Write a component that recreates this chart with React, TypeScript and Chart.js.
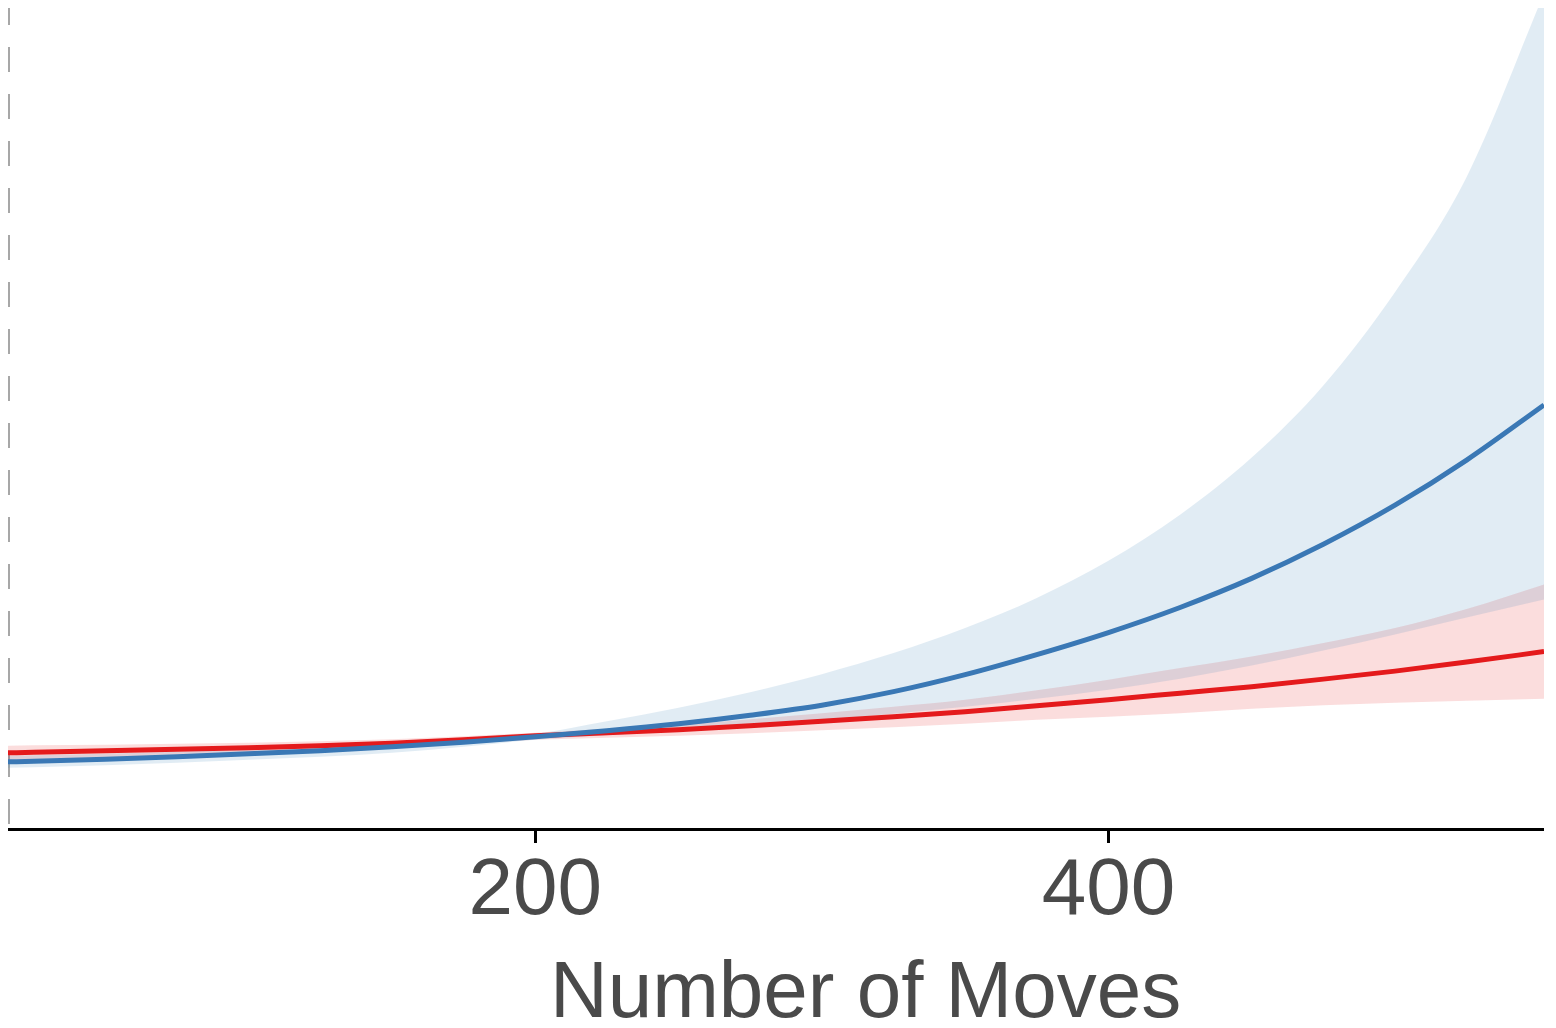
import React, { useEffect, useRef } from "react";
import { Chart, registerables } from "chart.js";

Chart.register(...registerables);

// Number of moves (x positions of the sampled curve points)
const moves = [16, 25, 50, 75, 100, 125, 150, 175, 200, 225, 250, 275, 300, 325, 350, 375, 400, 425, 450, 475, 500, 525, 552];

// Blue series: central estimate and its band
const blueLine = [6.7, 6.75, 6.95, 7.2, 7.5, 7.8, 8.2, 8.65, 9.2, 9.8, 10.5, 11.35, 12.35, 13.7, 15.4, 17.4, 19.6, 22.1, 25.0, 28.4, 32.3, 36.8, 42.3];
const blueUpper = [7.3, 7.35, 7.5, 7.7, 7.9, 8.15, 8.5, 8.95, 9.5, 10.75, 12.1, 13.65, 15.45, 17.55, 20.05, 23.05, 26.75, 31.35, 37.05, 44.25, 53.55, 65.05, 83.35];
const blueLower = [6.1, 6.15, 6.35, 6.6, 6.9, 7.2, 7.6, 8.2, 8.9, 9.35, 9.8, 10.3, 10.85, 11.5, 12.2, 13.0, 13.9, 15.0, 16.3, 17.8, 19.4, 21.1, 22.9];

// Red series: central estimate and its band
const redLine = [7.6, 7.65, 7.8, 7.95, 8.1, 8.3, 8.55, 8.9, 9.3, 9.6, 9.9, 10.3, 10.75, 11.2, 11.7, 12.3, 12.9, 13.55, 14.2, 14.95, 15.75, 16.65, 17.7];
const redUpper = [8.3, 8.35, 8.4, 8.5, 8.6, 8.75, 8.95, 9.25, 9.6, 10.0, 10.4, 10.95, 11.55, 12.2, 12.9, 13.85, 14.9, 16.05, 17.2, 18.55, 20.05, 21.95, 24.4];
const redLower = [6.9, 6.95, 7.15, 7.35, 7.55, 7.8, 8.1, 8.5, 8.9, 9.1, 9.3, 9.55, 9.85, 10.15, 10.5, 10.9, 11.2, 11.55, 12.0, 12.35, 12.6, 12.8, 13.0];

// Axis
const xMin = 16;
const xMax = 552;
const yMin = 0;
const yMax = 82.7;
const xTicks = [200, 400];
const xTitle = "Number of Moves";

const BLUE = "#3a78b5";
const RED = "#e41a1c";
const BLUE_BAND = "rgba(55,126,184,0.15)";
const RED_BAND = "rgba(228,26,28,0.15)";
const FONT = '"Liberation Sans", Arial, sans-serif';

const pts = (ys: number[]) => moves.map((x, i) => ({ x, y: ys[i] }));

export default function App() {
  const ref = useRef<HTMLCanvasElement | null>(null);

  useEffect(() => {
    if (!ref.current) return;
    const decorPlugin = {
      id: "decor",
      beforeDatasetsDraw(chart: any) {
        const { ctx, chartArea } = chart;
        ctx.save();
        ctx.strokeStyle = "#8a8a8a";
        ctx.lineWidth = 1.5;
        ctx.setLineDash([25, 22]);
        ctx.beginPath();
        ctx.moveTo(chartArea.left + 1, chartArea.top);
        ctx.lineTo(chartArea.left + 1, chartArea.bottom);
        ctx.stroke();
        ctx.restore();
      },
      afterDraw(chart: any) {
        const { ctx, chartArea } = chart;
        ctx.save();
        ctx.font = `80px ${FONT}`;
        ctx.fillStyle = "#4a4a4a";
        ctx.textAlign = "center";
        ctx.textBaseline = "alphabetic";
        const cx = chartArea.left + (chartArea.right - chartArea.left) * 0.5583;
        ctx.fillText(xTitle, cx, chartArea.bottom + 188);
        ctx.restore();
      },
    };

    const line = {
      pointRadius: 0,
      cubicInterpolationMode: "monotone" as const,
    };

    const chart = new Chart(ref.current, {
      type: "line",
      data: {
        datasets: [
          { ...line, data: pts(blueUpper), borderWidth: 0, borderColor: "transparent", backgroundColor: BLUE_BAND, fill: "+1", order: 2 },
          { ...line, data: pts(blueLower), borderWidth: 0, borderColor: "transparent", fill: false, order: 2 },
          { ...line, data: pts(redUpper), borderWidth: 0, borderColor: "transparent", backgroundColor: RED_BAND, fill: "+1", order: 3 },
          { ...line, data: pts(redLower), borderWidth: 0, borderColor: "transparent", fill: false, order: 3 },
          { ...line, data: pts(redLine), borderWidth: 5, borderColor: RED, fill: false, order: 1 },
          { ...line, data: pts(blueLine), borderWidth: 5, borderColor: BLUE, fill: false, order: 0 },
        ],
      },
      options: {
        animation: false,
        responsive: false,
        devicePixelRatio: 1,
        layout: { padding: { left: 0, right: 0, top: 0, bottom: 87 } },
        plugins: { legend: { display: false }, tooltip: { enabled: false } },
        scales: {
          x: {
            type: "linear",
            min: xMin,
            max: xMax,
            afterBuildTicks: (scale: any) => {
              scale.ticks = xTicks.map((v) => ({ value: v }));
            },
            grid: {
              display: true,
              drawOnChartArea: false,
              drawTicks: true,
              tickLength: 14,
              color: "#000",
              tickColor: "#000",
              tickWidth: 3,
            },
            border: { display: true, color: "#000", width: 3 },
            ticks: {
              padding: 1,
              autoSkip: false,
              color: "#4a4a4a",
              font: { size: 80, family: FONT },
              maxRotation: 0,
            },
          },
          y: {
            type: "linear",
            display: true,
            min: yMin,
            max: yMax,
            grid: { display: false, drawTicks: false },
            ticks: { display: false },
            border: { display: false },
          },
        },
      },
      plugins: [decorPlugin],
    });
    return () => chart.destroy();
  }, []);

  return (
    <div style={{ marginTop: -8, width: 1536, height: 1028 }}>
      <canvas ref={ref} width={1536} height={1028} style={{ width: 1536, height: 1028, display: "block" }} />
    </div>
  );
}
